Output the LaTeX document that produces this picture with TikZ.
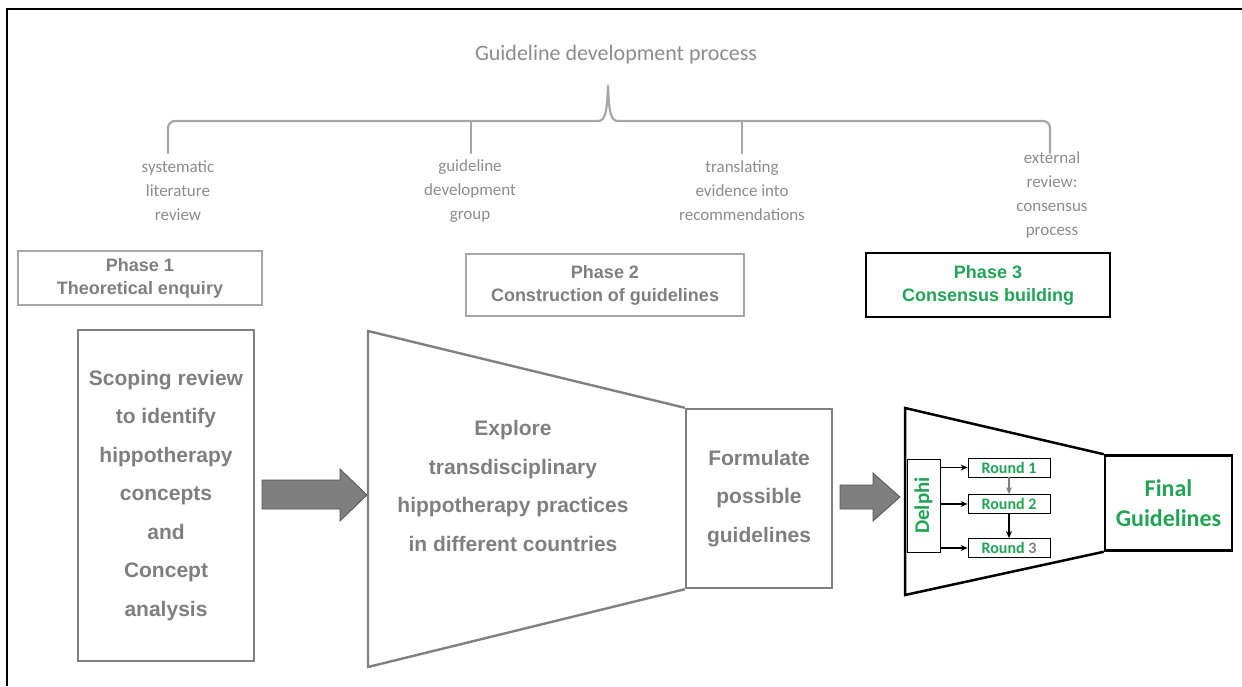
\documentclass[tikz,border=0pt]{standalone}
\usepackage{fontspec}
\newfontfamily\arialfont{Liberation Sans}
\newfontfamily\calfont{Carlito}
\usetikzlibrary{arrows.meta}
\definecolor{txtgray}{HTML}{7F7F7F}
\definecolor{lblgray}{HTML}{8C8C8C}
\definecolor{bracegray}{HTML}{A6A6A6}
\definecolor{boxgray}{HTML}{808080}
\definecolor{thingray}{HTML}{A6A6A6}
\definecolor{phasegreen}{HTML}{22A355}
\definecolor{arrowfill}{HTML}{7F7F7F}
\definecolor{arrowedge}{HTML}{555555}

\begin{document}
\begin{tikzpicture}[x=1pt,y=-1pt,
  titletext/.style={font=\calfont\fontsize{22}{26}\selectfont, text=lblgray, inner sep=0},
  bracket/.style={draw=bracegray, line width=2.2pt, line cap=round, line join=round},
  steplabel/.style={font=\calfont\fontsize{17}{24}\selectfont, text=lblgray, align=center, inner sep=0},
  phasebox/.style={draw=thingray, line width=1.1pt, font=\arialfont\bfseries\fontsize{18}{23}\selectfont,
    text=txtgray, align=center, inner sep=0},
  contentbox/.style={draw=boxgray, line width=2.4pt, font=\arialfont\bfseries\fontsize{21}{38.5}\selectfont,
    text=txtgray, align=center, inner sep=0},
  bodytext/.style={font=\arialfont\bfseries\fontsize{21}{38.5}\selectfont, text=txtgray, align=center, inner sep=0},
  blockarrow/.style={fill=arrowfill, draw=arrowedge, line width=0.8pt, line join=miter},
  roundbox/.style={draw=black, line width=0.8pt, font=\calfont\bfseries\fontsize{16}{18}\selectfont,
    text=phasegreen, inner sep=0, minimum width=82pt, minimum height=19pt},
  flow/.style={line width=1.1pt, -{Stealth[length=7pt,width=6pt]}},
]
\useasboundingbox (0,0) rectangle (1242,686);

% frame lines
\draw[line width=1.5pt] (7,686) -- (7,9) -- (1242,9);

% heading and bracket
\node[titletext] (title) at (616,55) {Guideline development process};
\draw[bracket, rounded corners=7pt] (168,153) -- (168,121) -- (598,121);
\draw[bracket] (598,121) .. controls (605,121) and (607,113) .. (608,86)
               .. controls (609,113) and (611,121) .. (618,121);
\draw[bracket, rounded corners=7pt] (618,121) -- (1050,121) -- (1050,153);
\draw[bracket] (471,121) -- (471,153);
\draw[bracket] (742,121) -- (742,153);

% step labels under the bracket
\node[steplabel] (l1) at (178,191) {systematic\\literature\\review};
\node[steplabel] (l2) at (470,191) {guideline\\development\\group};
\node[steplabel] (l3) at (742,191) {translating\\evidence into\\recommendations};
\node[steplabel] (l4) at (1052,195) {external\\review:\\consensus\\process};

% phase headers
\node[phasebox, minimum width=244pt, minimum height=54pt] (p1) at (140,278) {Phase 1\\Theoretical enquiry};
\node[phasebox, minimum width=278pt, minimum height=62pt] (p2) at (605,285) {Phase 2\\Construction of guidelines};
\node[phasebox, draw=black, line width=2.5pt, text=phasegreen, minimum width=244pt, minimum height=64pt]
  (p3) at (988,285) {Phase 3\\Consensus building};

% phase 1 content
\node[contentbox, minimum width=176pt, minimum height=331pt] (scope) at (166,495.5)
  {Scoping review\\to identify\\hippotherapy\\concepts\\and\\Concept\\analysis};

% arrow into phase 2
\filldraw[blockarrow] (262,480) -- (340,480) -- (340,469) -- (367,495) -- (340,521) -- (340,509) -- (262,509) -- cycle;

% phase 2 funnel
\node[contentbox, minimum width=146pt, minimum height=179pt] (form) at (759,498.5)
  {Formulate\\possible\\guidelines};
\draw[draw=boxgray, line width=2.4pt, line join=miter] (form.north west) -- (368,331) -- (368,667) -- (form.south west);
\node[bodytext] (explore) at (513,486)
  {Explore\\transdisciplinary\\hippotherapy practices\\in different countries};

% arrow into phase 3
\filldraw[blockarrow] (840,485) -- (873,485) -- (873,473) -- (900,497) -- (873,521) -- (873,509) -- (840,509) -- cycle;

% phase 3 funnel
\node[draw=black, line width=2.5pt, font=\calfont\bfseries\fontsize{24}{30}\selectfont, text=phasegreen,
  align=center, inner sep=0, minimum width=127pt, minimum height=95pt] (final) at (1168.5,503) {Final\\Guidelines};
\draw[draw=black, line width=2.5pt, line join=miter] (final.north west) -- (905,408) -- (905,595) -- (final.south west);

\node[draw=black, line width=0.8pt, rotate=90, font=\calfont\bfseries\fontsize{21}{24}\selectfont, text=phasegreen,
  inner sep=0, minimum width=93pt, minimum height=33pt] (delphi) at (923.5,505.5) {Delphi};

\node[roundbox] (r1) at (1009,467.5) {Round 1};
\node[roundbox] (r2) at (1009,504) {Round 2};
\node[roundbox] (r3) at (1009,548) {Round \textcolor{txtgray}{3}};

\draw[line width=1.1pt] (delphi.south |- r1) -- (delphi.south |- r3);
\draw[flow] (delphi.south |- r1) -- (r1);
\draw[flow] (delphi.south |- r2) -- (r2);
\draw[flow] (delphi.south |- r3) -- (r3);
\draw[flow, draw=gray] (r1) -- (r2);
\draw[flow] (r2) -- (r3);
\end{tikzpicture}
\end{document}
